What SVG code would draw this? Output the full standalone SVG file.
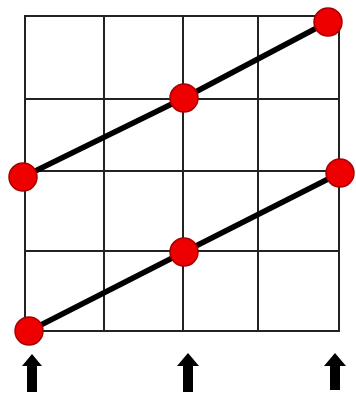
<svg xmlns="http://www.w3.org/2000/svg" width="356" height="401" viewBox="0 0 356 401">
<style>
.grid{stroke:#222;stroke-width:2;fill:none}
.seg{stroke:#000;stroke-width:5.5;stroke-linecap:round}
.dot{fill:#ee0000;stroke:#a80000;stroke-width:1.5}
.arr{fill:#000}
</style>
<rect width="356" height="401" fill="#fff"/>
<g id="grid" class="grid">
<rect x="25" y="16" width="314" height="315"/>
<line x1="104" y1="16" x2="104" y2="331"/>
<line x1="183" y1="16" x2="183" y2="331"/>
<line x1="258" y1="16" x2="258" y2="331"/>
<line x1="25" y1="99" x2="339" y2="99"/>
<line x1="25" y1="171" x2="339" y2="171"/>
<line x1="25" y1="251" x2="339" y2="251"/>
</g>
<g id="connectors">
<line class="seg" x1="23" y1="177" x2="184" y2="98"/>
<line class="seg" x1="184" y1="98" x2="328" y2="22"/>
<line class="seg" x1="29" y1="331" x2="184" y2="252"/>
<line class="seg" x1="184" y1="252" x2="340" y2="173"/>
</g>
<g id="n1"><circle class="dot" cx="23" cy="177" r="14"/></g>
<g id="n2"><circle class="dot" cx="184" cy="98" r="14"/></g>
<g id="n3"><circle class="dot" cx="328" cy="22" r="14"/></g>
<g id="n4"><circle class="dot" cx="29" cy="331" r="14"/></g>
<g id="n5"><circle class="dot" cx="184" cy="252" r="14"/></g>
<g id="n6"><circle class="dot" cx="340" cy="173" r="14"/></g>
<g id="a1"><polygon class="arr" points="32,354 42,366 37,366 37,392 27,392 27,366 22,366"/></g>
<g id="a2"><polygon class="arr" points="188,353 199,366 193,366 193,392 183,392 183,366 177,366"/></g>
<g id="a3"><polygon class="arr" points="335,353 346,366 340,366 340,390 330,390 330,366 324,366"/></g>
</svg>
